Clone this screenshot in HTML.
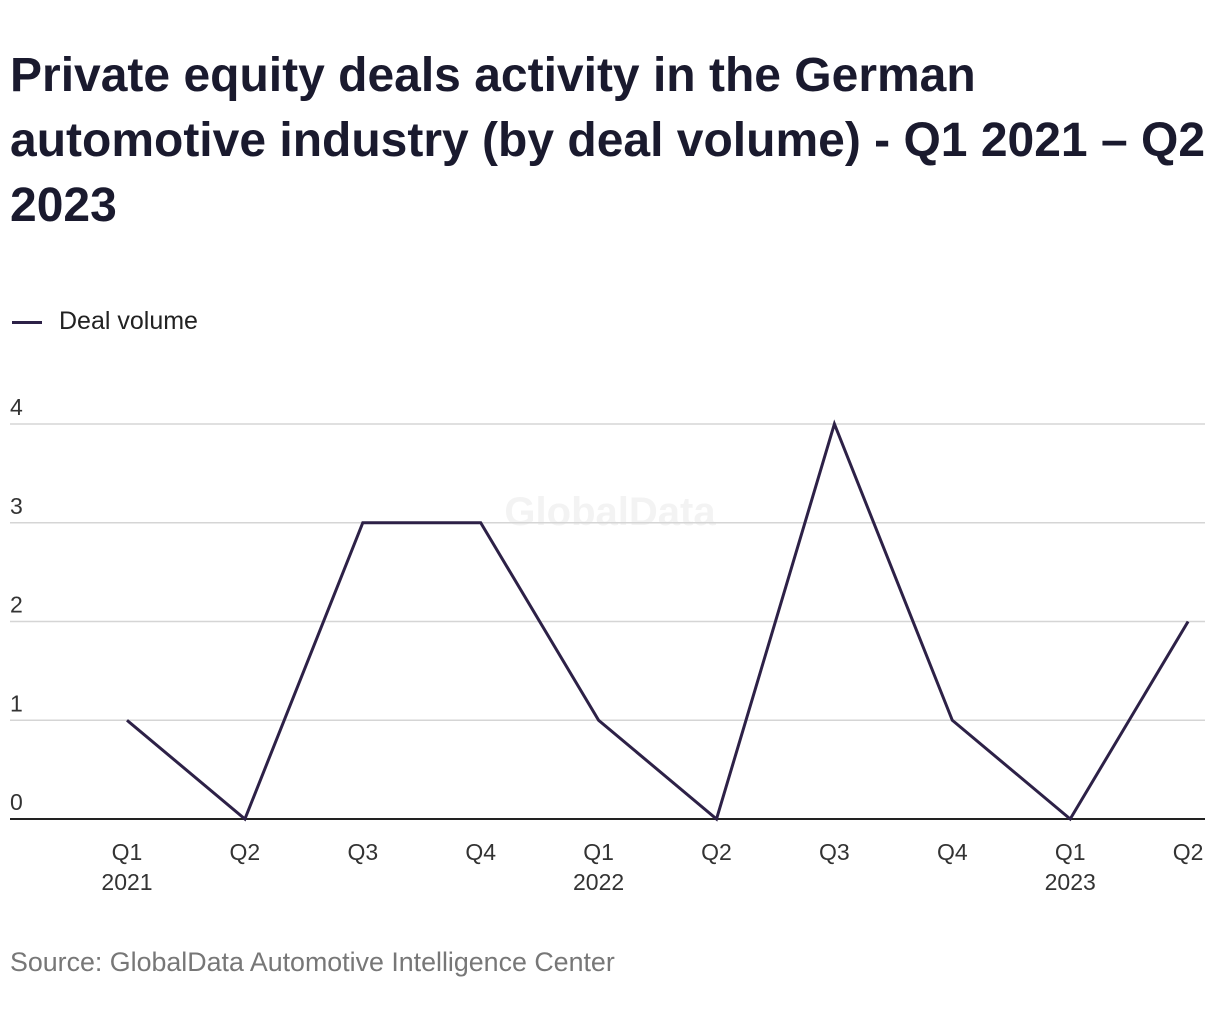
<!DOCTYPE html>
<html><head><meta charset="utf-8"><style>
body{margin:0;width:1220px;height:1020px;background:#fff;font-family:"Liberation Sans",sans-serif;overflow:hidden}
#title{position:absolute;left:10px;top:43px;width:1220px;font-size:48px;font-weight:bold;line-height:65px;color:#1a1a2e;margin:0;white-space:nowrap}
#legend{position:absolute;left:12px;top:307px;font-size:25px;color:#222}
#legend span.sw{display:inline-block;width:30px;height:3px;background:#2d2147;vertical-align:middle;margin-right:17px}
#source{position:absolute;left:10px;top:947px;font-size:26.8px;color:#777}
svg{position:absolute;left:0;top:0}
</style></head><body>
<h1 id="title">Private equity deals activity in the German<br>automotive industry (by deal volume) - Q1 2021 – Q2<br>2023</h1>
<div id="legend"><span class="sw"></span>Deal volume</div>
<svg id="chart" width="1220" height="1020"></svg>
<div id="source">Source: GlobalData Automotive Intelligence Center</div>
<script>
const categories=["Q1","Q2","Q3","Q4","Q1","Q2","Q3","Q4","Q1","Q2"];
const years=["2021","","","","2022","","","","2023",""];
const values=[1,0,3,3,1,0,4,1,0,2];
const yTicks=[0,1,2,3,4];
const svg=document.getElementById('chart');
const NS='http://www.w3.org/2000/svg';
const x=i=>127+i*117.9;
const y=v=>819-v*98.75;
function mk(t,a){const e=document.createElementNS(NS,t);for(const k in a)e.setAttribute(k,a[k]);svg.appendChild(e);return e;}
const wm=mk('text',{x:610,y:525,'font-size':40,'font-weight':'bold',fill:'#f3f3f3','text-anchor':'middle'});


wm.textContent='GlobalData';
yTicks.forEach(t=>{
  const g=mk('line',{x1:10,x2:1205,y1:y(t),y2:y(t),stroke:t===0?'#222':'#d5d5d5','stroke-width':t===0?2:1.5});
  
  
  const l=mk('text',{x:10,y:y(t)-9,'font-size':23,fill:'#333'});
  
  
  l.textContent=t;
});
categories.forEach((c,i)=>{
  const l=mk('text',{x:x(i),y:860,'font-size':23,fill:'#333','text-anchor':'middle'});
  
  
  l.textContent=c;
  if(years[i]){const yl=mk('text',{x:x(i),y:890,'font-size':23,fill:'#333','text-anchor':'middle'});
  
  
  yl.textContent=years[i];}
});
const p=mk('polyline',{points:values.map((v,i)=>x(i)+','+y(v)).join(' '),fill:'none',stroke:'#2d2147','stroke-width':3,'stroke-linejoin':'miter'});


</script>
</body></html>
